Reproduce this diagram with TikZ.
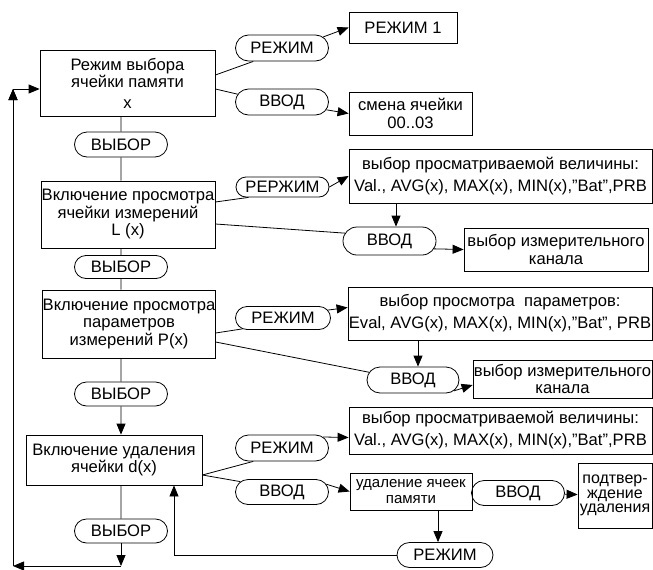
\documentclass[tikz,border=0pt]{standalone}
\usepackage{fontspec}
\setmainfont{Liberation Sans}
\usetikzlibrary{shapes.misc,arrows.meta,calc}
\tikzstyle{mybox}=[draw,rectangle,align=center,inner sep=0pt,font=\fontsize{16.6}{17.5}\selectfont]
\tikzstyle{widebox}=[mybox,font=\fontsize{16.6}{22}\selectfont]
\tikzstyle{mykey}=[draw,rounded rectangle,inner ysep=0pt,inner xsep=-6pt,minimum width=81pt,minimum height=26pt,font=\fontsize{16.6}{17.5}\selectfont]

\begin{document}
\begin{tikzpicture}[x=1pt,y=-1pt,line width=0.8pt,>={Triangle[length=11pt,width=9pt]}]
  \useasboundingbox (0,0) rectangle (653,570);
  % main column
  \node(mode)[mybox,minimum width=175pt,minimum height=66pt] at (127.5,83) {Режим выбора\\ячейки памяти\\[3pt]x};
  \node(viewL)[mybox,minimum width=174pt,minimum height=67pt] at (128,214.5) {Включение просмотра\\ячейки измерений\\L (x)};
  \node(viewP)[mybox,minimum width=170pt,minimum height=68pt] at (129,324) {Включение просмотра\\параметров\\измерений P(x)};
  \node(del)[mybox,minimum width=176pt,minimum height=50pt] at (114,460) {Включение удаления\\ячейки d(x)};
  \node(sel1)[mykey,minimum height=25pt] at (121,144.5) {ВЫБОР};
  \node(sel2)[mykey,minimum height=23pt] at (121,267) {ВЫБОР};
  \node(sel3)[mykey,minimum height=24pt] at (121,394) {ВЫБОР};
  \node(sel4)[mykey,minimum height=24pt] at (121,531) {ВЫБОР};
  % keys
  \node(mod1)[mykey] at (282,48) {РЕЖИМ};
  \node(ent1)[mykey] at (282,102) {ВВОД};
  \node(mod2)[mykey,minimum height=20pt] at (282.5,187) {РЕРЖИМ};
  \node(ent2)[mykey,minimum height=28pt] at (389.5,241) {ВВОД};
  \node(mod3)[mykey,minimum width=83pt,minimum height=23pt] at (283,318) {РЕЖИМ};
  \node(ent3)[mykey,minimum width=80pt] at (413,380) {ВВОД};
  \node(mod4)[mykey] at (282,448) {РЕЖИМ};
  \node(ent4)[mykey,minimum height=25pt] at (282,492) {ВВОД};
  \node(ent5)[mykey,minimum height=25pt] at (518,493) {ВВОД};
  \node(mod5)[mykey,minimum width=84pt,minimum height=25pt] at (445,555) {РЕЖИМ};
  % results
  \node(mode1)[mybox,minimum width=108pt,minimum height=31pt] at (403,27.5) {РЕЖИМ 1};
  \node(cell)[mybox,minimum width=123pt,minimum height=43pt] at (410.5,113.5) {смена ячейки\\00..03};
  \node(valL)[widebox,minimum width=303pt,minimum height=54pt] at (500.5,176) {выбор просматриваемой величины:\\Val., AVG(x), MAX(x), MIN(x),”Bat”,PRB};
  \node(chanL)[mybox,minimum width=184pt,minimum height=43pt] at (556,249.5) {выбор измерительного\\канала};
  \node(valP)[widebox,minimum width=304pt,minimum height=53pt] at (500,313.5) {выбор просмотра\ \ параметров:\\Eval, AVG(x), MAX(x), MIN(x),”Bat”, PRB};
  \node(chanP)[mybox,minimum width=179pt,minimum height=38pt] at (562.5,379) {выбор измерительного\\канала};
  \node(valD)[widebox,minimum width=303pt,minimum height=47pt] at (500.5,430.5) {выбор просматриваемой величины:\\Val., AVG(x), MAX(x), MIN(x),”Bat”,PRB};
  \node(erase)[mybox,minimum width=122pt,minimum height=37pt,font=\fontsize{15}{16}\selectfont] at (411,491.5) {удаление ячеек\\памяти};
  \node(confirm)[mybox,minimum width=74pt,minimum height=65pt,font=\fontsize{16}{14.5}\selectfont] at (615,495.5) {подтвер-\\ждение\\удаления};
  \coordinate(bottom) at (121,566);
  \coordinate(corner) at (13,566);
  \coordinate(top) at (13,89);
  \path[draw]
    (sel1) edge (sel1 |- mode.south)
    (sel1) edge (sel1 |- viewL.north)
    (sel2) edge (sel2 |- viewL.south)
    (sel2) edge (sel2 |- viewP.north)
    (sel3) edge (sel3 |- viewP.south)
    (sel4) edge (sel4 |- del.south)
    ([yshift=8pt]mode.east) edge (mod1.205)
    ([yshift=-6pt]mode.east) edge (ent1.170)
    ([yshift=12.5pt]viewL.east) edge (mod2.197)
    ([yshift=-9.5pt]viewL.east) edge (ent2.170)
    ([yshift=-9pt]viewP.east) edge (mod3.195)
    ([yshift=-18pt]viewP.east) edge (ent3.170)
    ([yshift=-15pt]del.east) edge (mod4.205)
    ([yshift=-15pt]del.east) edge (ent4.166)
    (erase.east) edge (ent5.west);
  \path[draw,->]
    (mod1.15) edge (mode1.west)
    (ent1.-10) edge (cell.west)
    (mod2.east) edge (valL.west)
    ($(ent2.north |- valL.south)+(6.5,0)$) edge ($(ent2.north)+(6.5,0)$)
    (ent2.-10) edge (chanL.west)
    (mod3.10) edge ([yshift=6pt]valP.west)
    ($(ent3.north |- valP.south)+(5,0)$) edge ($(ent3.north)+(5,0)$)
    (ent3.-15) edge ([yshift=-6pt]chanP.west)
    (sel3) edge (sel3 |- del.north)
    (mod4.15) edge ([yshift=-7pt]valD.west)
    (ent4.10) edge (erase.west)
    (ent5) edge (confirm)
    ($(mod5.north |- erase.south)+(-7,0)$) edge ($(mod5.north)+(-7,0)$)
    (sel4) edge (bottom)
    (bottom) edge (corner)
    (corner) edge (top)
    (top) edge (top -| mode.west);
  \draw[->] (mod5.west) -| ($(del.south)+(60,0)$);
\end{tikzpicture}
\end{document}
